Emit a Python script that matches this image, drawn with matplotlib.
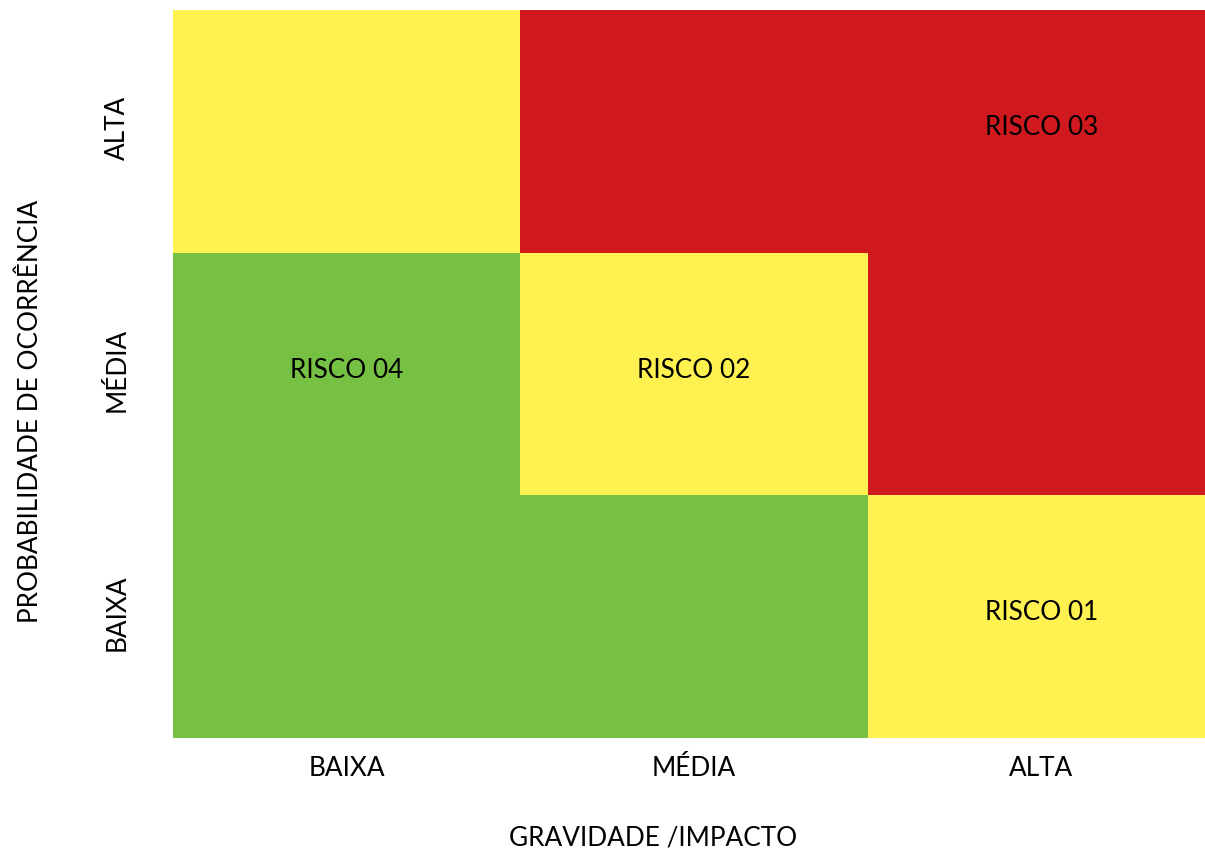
import numpy as np
import matplotlib.pyplot as plt
from matplotlib.colors import ListedColormap

plt.rcParams['font.family'] = ['Lato', 'DejaVu Sans']

# Risk matrix data
impact_labels = ["BAIXA", "MÉDIA", "ALTA"]
prob_labels = ["BAIXA", "MÉDIA", "ALTA"]
# level per cell: 0 = low (green), 1 = medium (yellow), 2 = high (red)
# rows: probability BAIXA, MÉDIA, ALTA; cols: impact BAIXA, MÉDIA, ALTA
levels = np.array([
    [0, 0, 1],
    [0, 1, 2],
    [1, 2, 2],
])
risk_names = ["RISCO 01", "RISCO 02", "RISCO 03", "RISCO 04"]
risk_impact = [2, 1, 2, 0]
risk_prob = [0, 1, 2, 1]

cmap = ListedColormap(["#76C044", "#FFF250", "#D0191F"])
fs = 18.8

fig = plt.figure(figsize=(12.05, 8.53), dpi=100)
ax = fig.add_axes([173 / 1205, 1 - 739 / 853, 1042 / 1205, 728 / 853])
ax.pcolormesh(np.arange(4), np.arange(4), levels, cmap=cmap, vmin=0, vmax=2)

for name, xi, yi in zip(risk_names, risk_impact, risk_prob):
    ax.text(xi + 0.5, yi + 0.52, name, ha='center', va='center', fontsize=fs)

ax.set_xlim(0, 3)
ax.set_ylim(0, 3)
ax.set_xticks(np.arange(3) + 0.5)
ax.set_xticklabels(impact_labels, fontsize=fs)
ax.set_yticks(np.arange(3) + 0.52)
ax.set_yticklabels(prob_labels, fontsize=fs, rotation=90, va='center')
ax.tick_params(length=0)
ax.tick_params(axis='x', pad=12)
ax.tick_params(axis='y', pad=31)
for s in ax.spines.values():
    s.set_visible(False)

fig.text(653 / 1205, 1 - 838 / 853, "GRAVIDADE /IMPACTO", ha='center', va='center', fontsize=fs)
fig.text(31 / 1205, 1 - 411 / 853, "PROBABILIDADE DE OCORRÊNCIA", ha='center', va='center',
         rotation=90, fontsize=fs)

fig.savefig("out.png", dpi=100)
